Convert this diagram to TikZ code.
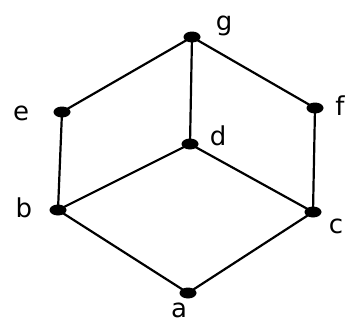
\documentclass[tikz,border=0pt]{standalone}
\usepackage{fontspec}
\setmainfont{DejaVu Sans}
\usetikzlibrary{shapes.geometric}
\begin{document}
\begin{tikzpicture}[x=1pt,y=-1pt,
  dot/.style={ellipse,fill=black,draw=none,minimum width=17pt,minimum height=11pt,inner sep=0pt},
  lab/.style={anchor=base,inner sep=0pt,font=\fontsize{26}{26}\selectfont},
  edge/.style={line width=2.2pt,black}]
\useasboundingbox (0,0) rectangle (347,324);
\node[dot] (g) at (192,37) {};
\node[dot] (e) at (62,112) {};
\node[dot] (f) at (315,108) {};
\node[dot] (d) at (190,144) {};
\node[dot] (b) at (58,210) {};
\node[dot] (c) at (313,212) {};
\node[dot] (a) at (188,293) {};
\draw[edge] (g.center) -- (e.center);
\draw[edge] (g.center) -- (d.center);
\draw[edge] (g.center) -- (f.center);
\draw[edge] (e.center) -- (b.center);
\draw[edge] (d.center) -- (b.center);
\draw[edge] (d.center) -- (c.center);
\draw[edge] (f.center) -- (c.center);
\draw[edge] (b.center) -- (a.center);
\draw[edge] (a.center) -- (c.center);
\node[lab] (lg) at (224,30) {g};
\node[lab] (le) at (21,120) {e};
\node[lab] (lf) at (340,115) {f};
\node[lab] (ld) at (218,145) {d};
\node[lab] (lb) at (24,217) {b};
\node[lab] (lc) at (336,233) {c};
\node[lab] (la) at (179,317) {a};
\end{tikzpicture}
\end{document}
